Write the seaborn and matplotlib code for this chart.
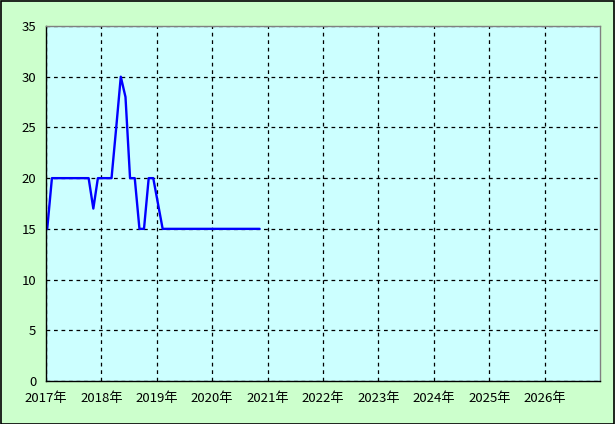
import pandas as pd
import matplotlib
matplotlib.use("Agg")
import matplotlib.pyplot as plt
import matplotlib.dates as mdates
from matplotlib.patches import Rectangle
import seaborn as sns

# monthly readings, Jan 2017 .. Nov 2020
months = pd.date_range("2017-01-01", periods=47, freq="MS") + pd.Timedelta(days=8)
values = [15,
          20, 20, 20, 20, 20, 20, 20, 20, 20,
          17,
          20, 20, 20, 20,
          25, 30, 28,
          20, 20,
          15, 15,
          20, 20,
          17.5,
          15, 15, 15, 15, 15, 15, 15, 15, 15, 15, 15,
          15, 15, 15, 15, 15, 15, 15, 15, 15, 15, 15]
years = list(range(2017, 2027))

df = pd.DataFrame({"date": months, "value": values})

sns.set_style("white")
plt.rcParams['font.family'] = ['Noto Sans CJK JP', 'DejaVu Sans']

fig = plt.figure(figsize=(6.15, 4.24), dpi=100, facecolor="#ccffcc")
ax = fig.add_axes([46/615, 1 - 381/424, (600 - 46)/615, (381 - 26)/424])
ax.set_facecolor("#ccffff")

sns.lineplot(data=df, x="date", y="value", ax=ax, color="#0000ff", linewidth=1.7)

ax.set_xlim(pd.Timestamp("2017-01-01"), pd.Timestamp("2027-01-01"))
ax.set_ylim(0, 35)
ax.set_yticks(range(0, 36, 5))
ax.set_xticks([pd.Timestamp(f"{y}-01-01") for y in years])
ax.xaxis.set_major_formatter(mdates.DateFormatter("%Y年"))
ax.set_xlabel("")
ax.set_ylabel("")

ax.grid(True, color="black", linestyle=(0, (3, 3)), linewidth=0.9)
ax.tick_params(axis="both", length=0, labelsize=9.5, colors="black")
ax.tick_params(axis="y", pad=7)
ax.tick_params(axis="x", pad=8)

for side in ["left", "bottom"]:
    ax.spines[side].set_color("black")
    ax.spines[side].set_linewidth(1)
for side in ["top", "right"]:
    ax.spines[side].set_color("#808080")
    ax.spines[side].set_linewidth(1)

# outer frame of the picture
fig.patches.append(Rectangle((0.001, 0.001), 0.997, 0.997, transform=fig.transFigure,
                             fill=False, edgecolor="black", linewidth=1.2))

fig.savefig("out.png", dpi=100, facecolor=fig.get_facecolor())
